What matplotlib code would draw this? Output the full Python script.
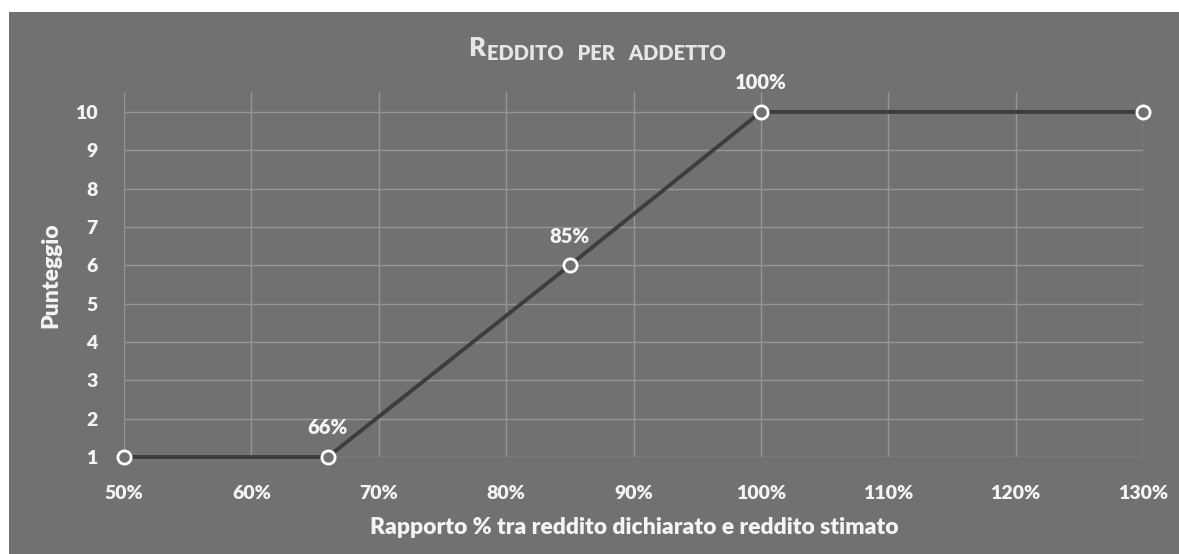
import matplotlib
matplotlib.use('Agg')
from matplotlib import pyplot as plt
from matplotlib.patches import Rectangle
from matplotlib.ticker import FuncFormatter

# data
ratio_pct = [50, 66, 85, 100, 130]
score = [1, 1, 6, 10, 10]
labelled = ['', '66%', '85%', '100%', '']
x_ticks = [50, 60, 70, 80, 90, 100, 110, 120, 130]
y_ticks = [1, 2, 3, 4, 5, 6, 7, 8, 9, 10]

bg = '#717171'
txt = '#f4f4f4'
plt.rcParams['font.family'] = ['Lato', 'DejaVu Sans']

W, H = 1179, 554
fig = plt.figure(figsize=(W / 100, H / 100), dpi=100)
fig.patch.set_facecolor('white')
fig.add_artist(Rectangle((9 / W, 0), 1, 1 - 12 / H, transform=fig.transFigure,
                         facecolor=bg, edgecolor='none', zorder=-10))

ax = fig.add_axes([124 / W, (H - 457) / H, (1143 - 124) / W, (457 - 92) / H])
ax.set_facecolor(bg)
for s in ax.spines.values():
    s.set_visible(False)

ax.set_xlim(50, 130)
ax.set_ylim(1, 10.52)
ax.set_xticks(x_ticks)
ax.set_yticks(y_ticks)
ax.xaxis.set_major_formatter(FuncFormatter(lambda v, p: '%d%%' % v))
ax.grid(True, color='#959595', linewidth=1)
ax.tick_params(length=0, labelsize=14, colors=txt)
ax.tick_params(axis='x', pad=20)
ax.tick_params(axis='y', pad=19)
for lab in ax.get_xticklabels() + ax.get_yticklabels():
    lab.set_fontweight('heavy')

ax.plot(ratio_pct, score, color='#3d3d3d', linewidth=2.8, zorder=3,
        marker='o', markersize=9.5, markerfacecolor=bg,
        markeredgecolor='white', markeredgewidth=2, clip_on=False)

for xv, yv, t in zip(ratio_pct, score, labelled):
    if t:
        ax.annotate(t, (xv, yv), xytext=(0, 21), textcoords='offset points',
                    ha='center', va='center', fontsize=14.5,
                    fontweight='heavy', color=txt)

fig.text(51 / W, 1 - 275 / H, 'Punteggio', rotation=90, ha='center', va='center',
         fontsize=16.5, fontweight='heavy', color=txt)
fig.text(634 / W, 1 - 527 / H, 'Rapporto % tra reddito dichiarato e reddito stimato',
         ha='center', va='center', fontsize=16.5, fontweight='heavy', color=txt)

# small caps title
t1 = fig.text(468 / W, 1 - 56 / H, 'R', ha='left', va='baseline',
              fontsize=18.5, fontweight='heavy', color='#e6e6e6')
ax.annotate('EDDITO   PER   ADDETTO', xy=(1, 0), xycoords=t1,
            xytext=(1.5, 0), textcoords='offset points', ha='left', va='baseline',
            fontsize=14.5, fontweight='heavy', color='#e6e6e6',
            annotation_clip=False)

fig.savefig('out.png', dpi=100, facecolor=fig.get_facecolor())
